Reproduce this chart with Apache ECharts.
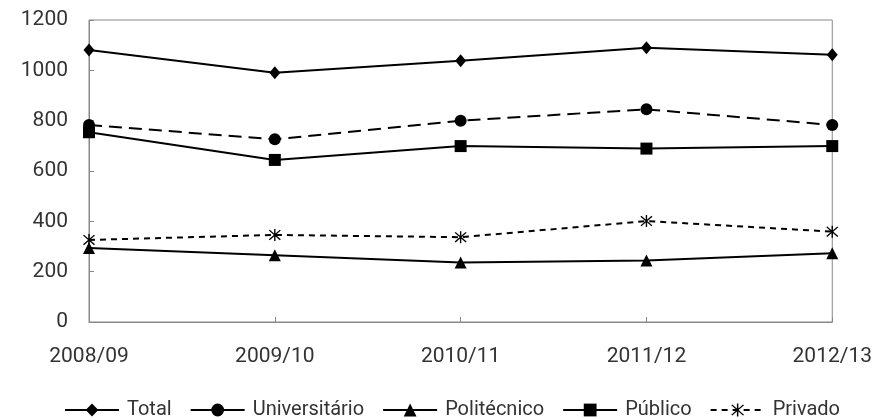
<!DOCTYPE html>
<html>
<head>
<meta charset="utf-8">
<script src="https://cdn.jsdelivr.net/npm/echarts@6/dist/echarts.min.js"></script>
<style>
  html, body { margin: 0; padding: 0; background: #fff; }
  #chart { width: 875px; height: 420px; }
</style>
</head>
<body>
<div id="chart"></div>
<script>
// School years on the x axis
const years = ['2008/09', '2009/10', '2010/11', '2011/12', '2012/13'];

// Series values
const total        = [1081, 990, 1038, 1090, 1062];
const universitario = [783, 726, 800, 845, 783];
const politecnico  = [294, 265, 236, 244, 273];
const publico      = [754, 644, 699, 689, 699];
const privado      = [326, 346, 337, 401, 359];

// Y axis range
const yMin = 0, yMax = 1200, yStep = 200;

const FONT = 'Roboto';
const TEXT = '#333';
const AXIS = '#888';

// Thin six-armed asterisk marker
const asterisk = 'path://M4.5,0L5.5,0L5.5,10L4.5,10Z' +
  'M1.354,0.646L9.354,8.646L8.646,9.354L0.646,1.354Z' +
  'M8.646,0.646L9.354,1.354L1.354,9.354L0.646,8.646Z';

function line(name, data, symbol, size, dash) {
  return {
    name, type: 'line', data, symbol, symbolSize: size,
    lineStyle: { color: '#000', width: 2, type: dash || 'solid' },
    itemStyle: { color: '#000' },
    emphasis: { disabled: true },
    animation: false
  };
}

const chart = echarts.init(document.getElementById('chart'), null, { renderer: 'canvas' });
chart.setOption({
  backgroundColor: '#fff',
  animation: false,
  grid: {
    left: 89, right: 39, top: 20, bottom: 98,
    show: true, borderColor: AXIS, borderWidth: 1
  },
  xAxis: {
    type: 'category', data: years, boundaryGap: false,
    axisLine: { lineStyle: { color: AXIS, width: 1 } },
    axisTick: { inside: true, length: 5, lineStyle: { color: AXIS } },
    axisLabel: { color: TEXT, fontFamily: FONT, fontSize: 21, margin: 24 },
    splitLine: { show: false }
  },
  yAxis: {
    type: 'value', min: yMin, max: yMax, interval: yStep,
    axisLine: { show: true, lineStyle: { color: AXIS, width: 1 } },
    axisTick: { show: true, inside: true, length: 5, lineStyle: { color: AXIS } },
    axisLabel: {
      color: TEXT, fontFamily: FONT, fontSize: 21, margin: 21,
      formatter: v => String(v)
    },
    splitLine: { show: false }
  },
  legend: {
    left: 59, top: 395,
    itemWidth: 54, itemHeight: 16, itemGap: 18,
    textStyle: { color: TEXT, fontFamily: FONT, fontSize: 20, padding: [0, 0, 0, 3] },
    data: [
      'Total',
      { name: 'Universitário', lineStyle: { type: 'solid' } },
      'Politécnico',
      'Público',
      'Privado'
    ]
  },
  series: [
    line('Total', total, 'diamond', [11, 13]),
    line('Universitário', universitario, 'circle', 12, [13, 7]),
    line('Politécnico', politecnico, 'triangle', 12),
    line('Público', publico, 'rect', 12),
    line('Privado', privado, asterisk, 12, [6, 5])
  ]
});
</script>
</body>
</html>
